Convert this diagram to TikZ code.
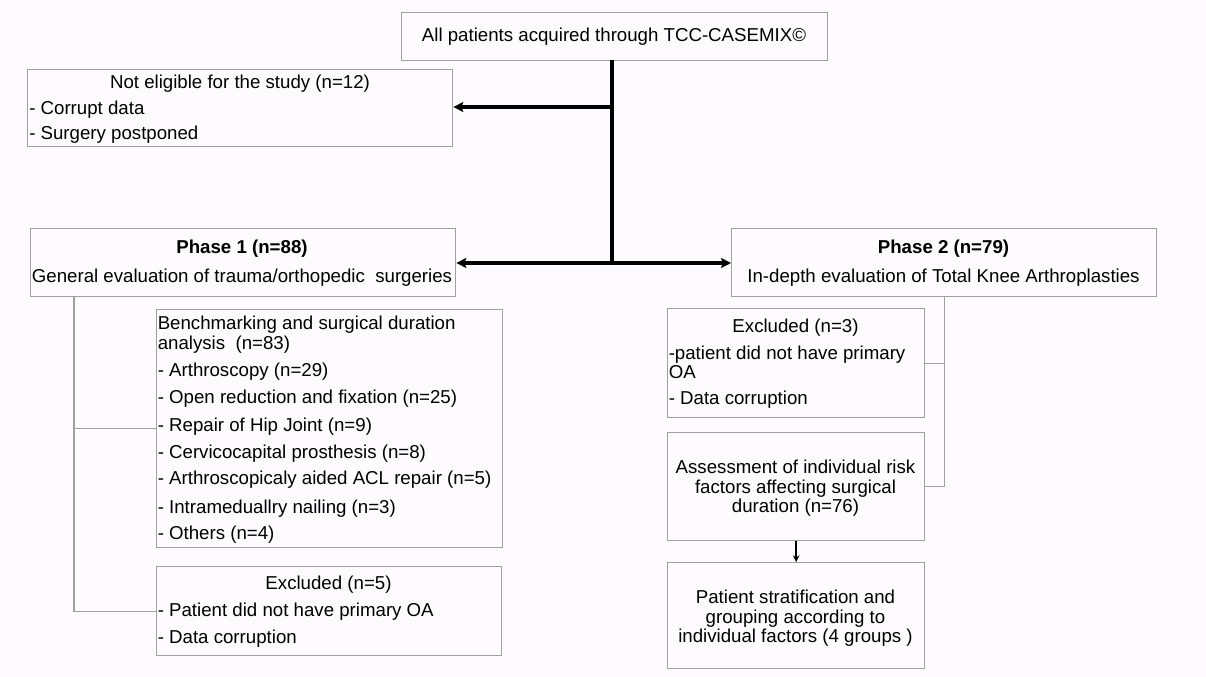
\documentclass[tikz,border=0pt]{standalone}
\usepackage{fontspec}
\setmainfont{Liberation Sans}
\usetikzlibrary{arrows.meta}
\definecolor{bgcol}{RGB}{253,251,253}
\definecolor{framecol}{RGB}{160,160,160}
\begin{document}
\begin{tikzpicture}[x=0.75pt,y=-0.75pt,
  font=\fontsize{14}{16}\selectfont,
  box/.style={draw=framecol, line width=1pt, fill=bgcol, rectangle, inner sep=0pt, anchor=north west},
  lnl/.style={anchor=base west, inner sep=0pt},
  lnc/.style={anchor=base, inner sep=0pt},
  thick arrow/.style={line width=3pt, -{Stealth[length=7.5pt,width=7.5pt,inset=1.5pt]}},
  thick line/.style={line width=3pt},
  thin link/.style={draw=framecol, line width=1pt},
  small arrow/.style={line width=1.5pt, -{Stealth[length=5pt,width=5pt]}}]

% canvas
\fill[bgcol] (0,0) rectangle (1206,677);
\useasboundingbox (0,0) rectangle (1206,677);

% boxes
\node[box, minimum width=426*0.75pt, minimum height=48*0.75pt] (top) at (401,12) {};
\node[box, minimum width=425*0.75pt, minimum height=77*0.75pt] (nel) at (27,69) {};
\node[box, minimum width=425*0.75pt, minimum height=68*0.75pt] (ph1) at (30,228) {};
\node[box, minimum width=425*0.75pt, minimum height=68*0.75pt] (ph2) at (731,228) {};
\node[box, minimum width=346*0.75pt, minimum height=238*0.75pt] (bench) at (156,309) {};
\node[box, minimum width=345*0.75pt, minimum height=89*0.75pt] (ex5) at (156,566) {};
\node[box, minimum width=257*0.75pt, minimum height=109*0.75pt] (ex3) at (667,308) {};
\node[box, minimum width=257*0.75pt, minimum height=108*0.75pt] (risk) at (667,432) {};
\node[box, minimum width=257*0.75pt, minimum height=106*0.75pt] (strat) at (667,562) {};

% texts
\node[lnc] (ttop) at (614,42) {All patients acquired through TCC-CASEMIX©};

\node[lnc] (tnel1) at (240,89) {Not eligible for the study (n=12)};
\node[lnl] (tnel2) at (29,115) {- Corrupt data};
\node[lnl] (tnel3) at (29,140) {- Surgery postponed};

\node[lnc, font=\fontsize{14}{16}\selectfont\bfseries] (tph1a) at (242,254) {Phase 1 (n=88)};
\node[lnc] (tph1b) at (242,282) {General evaluation of trauma/orthopedic\ \ surgeries};
\node[lnc, font=\fontsize{14}{16}\selectfont\bfseries] (tph2a) at (943.5,254) {Phase 2 (n=79)};
\node[lnc] (tph2b) at (943.5,282) {In-depth evaluation of Total Knee Arthroplasties};

\node[lnl] (tb1) at (157.5,329) {Benchmarking and surgical duration};
\node[lnl] (tb2) at (157.5,349) {analysis\ \ (n=83)};
\node[lnl] (tb3) at (157.5,376) {- Arthroscopy (n=29)};
\node[lnl] (tb4) at (157.5,403) {- Open reduction and fixation (n=25)};
\node[lnl] (tb5) at (157.5,431) {- Repair of Hip Joint (n=9)};
\node[lnl] (tb6) at (157.5,458) {- Cervicocapital prosthesis (n=8)};
\node[lnl] (tb7) at (157.5,484) {- Arthroscopicaly aided ACL repair (n=5)};
\node[lnl] (tb8) at (157.5,513) {- Intrameduallry nailing (n=3)};
\node[lnl] (tb9) at (157.5,539) {- Others (n=4)};

\node[lnc] (te51) at (328.5,589) {Excluded (n=5)};
\node[lnl] (te52) at (157.5,616) {- Patient did not have primary OA};
\node[lnl] (te53) at (157.5,643) {- Data corruption};

\node[lnc] (te31) at (795.5,332) {Excluded (n=3)};
\node[lnl] (te32) at (668.5,359) {-patient did not have primary};
\node[lnl] (te33) at (668.5,378) {OA};
\node[lnl] (te34) at (668.5,404) {- Data corruption};

\node[lnc] (tr1) at (795.5,473) {Assessment of individual risk};
\node[lnc] (tr2) at (795.5,493) {factors affecting surgical};
\node[lnc] (tr3) at (795.5,512) {duration (n=76)};

\node[lnc] (ts1) at (795.5,603) {Patient stratification and};
\node[lnc] (ts2) at (795.5,623) {grouping according to};
\node[lnc] (ts3) at (795.5,642) {individual factors\ (4 groups )};

% main flow
\coordinate (topfoot) at (612,60);
\coordinate (split) at (612,263);
\coordinate (nelbranch) at (612,107);
\draw[thick line] (topfoot) -- (split);
\draw[thick arrow] (nelbranch) -- (nelbranch -| nel.east);
\draw[thick arrow] (split) -- (split -| ph1.east);
\draw[thick arrow] (split) -- (split -| ph2.west);

% phase 1 branches
\coordinate (p1foot) at (74,296);
\draw[thin link] (p1foot) |- (bench.west);
\draw[thin link] (p1foot) |- (ex5.west);

% phase 2 branches
\draw[thin link] (ph2.south) |- (ex3.east);
\draw[thin link] (ph2.south) |- (risk.east);
\draw[small arrow] (risk.south) -- (strat.north);
\end{tikzpicture}
\end{document}
